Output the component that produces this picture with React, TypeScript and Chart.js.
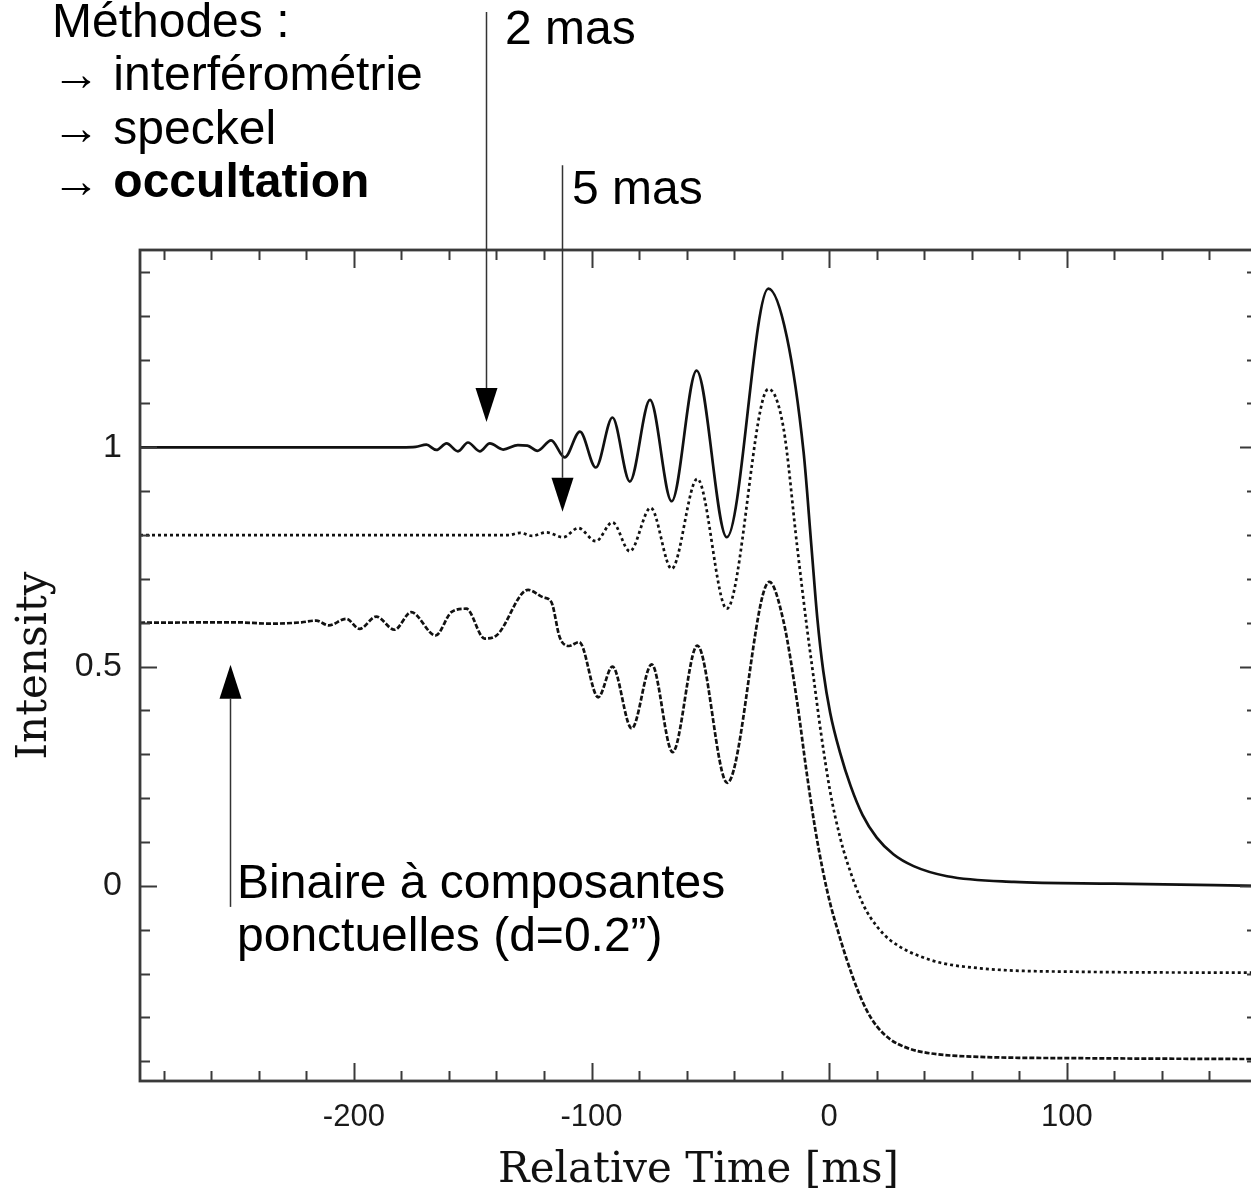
import React, { useEffect, useRef } from "react";
import { Chart, registerables } from "chart.js";

Chart.register(...registerables);

// ---- Data ----
// Relative time [ms] / intensity for the three occultation light curves
const solidX = [-290, -180, -174, -169.5, -165.3, -161, -156.2, -152, -147, -142.8, -137.2, -131, -127, -122.8, -117, -111.3, -104.9, -98.2, -91.2, -83.9, -75.4, -66.3, -55.8, -43.1, -25.6, -17.8, -10.8, -7.5, -5, -2.5, 0.4, 4.5, 9, 14, 20, 27, 35.5, 49.6, 77.7, 119.8, 180];
const solidY = [1.0, 1.0, 1.001, 1.006, 0.994, 1.009, 0.991, 1.011, 0.991, 1.009, 0.995, 1.005, 1.004, 0.992, 1.016, 0.977, 1.036, 0.954, 1.068, 0.922, 1.108, 0.877, 1.175, 0.795, 1.362, 1.251, 0.99, 0.775, 0.61, 0.49, 0.395, 0.305, 0.228, 0.162, 0.11, 0.072, 0.045, 0.022, 0.009, 0.005, 0.0];

const dottedX = [-290, -135, -130, -125, -119, -112, -105.6, -98.2, -91.2, -83.9, -75.1, -66.3, -55.5, -43.1, -25.6, -19.3, -13.4, -9.4, -6.6, -3.5, 0.4, 4.6, 7.5, 14.5, 20, 25.7, 42.6, 63.6, 105.8, 180];
const dottedY = [0.8, 0.8, 0.805, 0.798, 0.806, 0.795, 0.816, 0.786, 0.829, 0.763, 0.862, 0.723, 0.928, 0.632, 1.133, 1.046, 0.77, 0.59, 0.476, 0.35, 0.215, 0.11, 0.055, -0.045, -0.092, -0.124, -0.169, -0.188, -0.196, -0.198];

const dashedX = [-290, -250, -235, -222, -215.9, -210.6, -203.2, -197.6, -190.6, -182.9, -175.9, -165.6, -159, -152.7, -145, -140, -126.7, -120.4, -116.9, -113.4, -109.5, -105.2, -97.2, -91.2, -83.1, -74.7, -65.9, -55.5, -42.9, -25.2, -19.3, -13.6, -9.4, -5.9, -2.5, 0.4, 3.5, 7.5, 12, 15.9, 20, 25.7, 33, 42.6, 63.6, 105.8, 180];
const dashedY = [0.6, 0.601, 0.598, 0.601, 0.605, 0.594, 0.609, 0.586, 0.614, 0.584, 0.624, 0.571, 0.624, 0.632, 0.564, 0.571, 0.675, 0.658, 0.647, 0.567, 0.547, 0.556, 0.43, 0.5, 0.359, 0.505, 0.305, 0.548, 0.235, 0.693, 0.605, 0.423, 0.255, 0.13, 0.03, -0.04, -0.1, -0.17, -0.238, -0.285, -0.32, -0.35, -0.37, -0.382, -0.39, -0.393, -0.395];

const xTickLabels = [-200, -100, 0, 100];
const yTickLabels = [0, 0.5, 1];
const xMin = -290;
const xMax = 180;
const yMin = -0.445;
const yMax = 1.45;
const xMinorStep = 20;
const xMajorStep = 100;
const yMinorStep = 0.1;
const yMajorStep = 0.5;

const xTitle = "Relative Time [ms]";
const yTitle = "Intensity";

// Annotation arrows: x (ms), tail and tip intensity
const arrowX = [-144.4, -112.4, -252.1];
const arrowTail = [1.993, 1.643, -0.048];
const arrowTip = [1.058, 0.853, 0.504];

const methodLines = ["Méthodes :", "→ interférométrie", "→ speckel"];
const methodBold = "occultation";
const label2 = "2 mas";
const label5 = "5 mas";
const binaryLines = ["Binaire à composantes", "ponctuelles (d=0.2”)"];

const CANVAS_W = 1265;
const CANVAS_H = 1194;

const framePlugin = {
  id: "frameTicks",
  afterDatasetsDraw(chart: any) {
    const { ctx, chartArea: a, scales } = chart;
    const xs = scales.x;
    const ys = scales.y;
    ctx.save();
    ctx.strokeStyle = "#3a3a3a";
    ctx.lineWidth = 2.8;
    ctx.strokeRect(a.left, a.top, a.right - a.left, a.bottom - a.top);
    ctx.lineWidth = 2;
    ctx.beginPath();
    const nx0 = Math.ceil(xMin / xMinorStep);
    const nx1 = Math.floor(xMax / xMinorStep);
    for (let k = nx0; k <= nx1; k++) {
      const v = k * xMinorStep;
      const px = Math.round(xs.getPixelForValue(v)) + 0.5;
      const major = Math.abs(v % xMajorStep) < 1e-9;
      const len = major ? 18 : 10;
      ctx.moveTo(px, a.bottom);
      ctx.lineTo(px, a.bottom - len);
      ctx.moveTo(px, a.top);
      ctx.lineTo(px, a.top + len);
    }
    const ny0 = Math.ceil(yMin / yMinorStep - 1e-9);
    const ny1 = Math.floor(yMax / yMinorStep + 1e-9);
    const per = Math.round(yMajorStep / yMinorStep);
    for (let k = ny0; k <= ny1; k++) {
      const v = k * yMinorStep;
      const py = Math.round(ys.getPixelForValue(v)) + 0.5;
      const major = k % per === 0;
      const len = major ? 17 : 10;
      ctx.moveTo(a.left, py);
      ctx.lineTo(a.left + len, py);
      ctx.moveTo(a.right, py);
      ctx.lineTo(a.right - len, py);
    }
    ctx.stroke();
    ctx.restore();
  },
  afterDraw(chart: any) {
    const { ctx, scales } = chart;
    const xs = scales.x;
    const ys = scales.y;
    ctx.save();
    for (let i = 0; i < arrowX.length; i++) {
      const px = Math.round(xs.getPixelForValue(arrowX[i])) + 0.5;
      const pTail = ys.getPixelForValue(arrowTail[i]);
      const pTip = ys.getPixelForValue(arrowTip[i]);
      const dir = pTip > pTail ? 1 : -1;
      const headLen = 34;
      const headHalf = 11;
      ctx.strokeStyle = "#333";
      ctx.lineWidth = 1.5;
      ctx.beginPath();
      ctx.moveTo(px, pTail);
      ctx.lineTo(px, pTip - dir * headLen);
      ctx.stroke();
      ctx.fillStyle = "#000";
      ctx.beginPath();
      ctx.moveTo(px, pTip);
      ctx.lineTo(px - headHalf, pTip - dir * headLen);
      ctx.lineTo(px + headHalf, pTip - dir * headLen);
      ctx.closePath();
      ctx.fill();
    }
    ctx.restore();
  },
};

function App() {
  const ref = useRef<HTMLCanvasElement>(null);

  useEffect(() => {
    if (!ref.current) return;
    const mk = (xa: number[], ya: number[]) => xa.map((x, i) => ({ x, y: ya[i] }));
    const sans = '"Liberation Sans", Arial, sans-serif';
    const chart = new Chart(ref.current, {
      type: "line",
      data: {
        datasets: [
          {
            label: "point source",
            data: mk(solidX, solidY),
            borderColor: "#111",
            borderWidth: 2.7,
            pointRadius: 0,
            cubicInterpolationMode: "monotone",
            fill: false,
          },
          {
            label: "2 mas",
            data: mk(dottedX, dottedY),
            borderColor: "#111",
            borderWidth: 2.7,
            borderDash: [3, 3],
            pointRadius: 0,
            cubicInterpolationMode: "monotone",
            fill: false,
          },
          {
            label: "binary",
            data: mk(dashedX, dashedY),
            borderColor: "#111",
            borderWidth: 2.7,
            borderDash: [5, 2],
            pointRadius: 0,
            cubicInterpolationMode: "monotone",
            fill: false,
          },
        ],
      },
      options: {
        animation: false,
        responsive: false,
        devicePixelRatio: 1,
        parsing: false as any,
        layout: { padding: { left: 0, top: 250, right: CANVAS_W - 1257, bottom: 0 } },
        plugins: { legend: { display: false }, tooltip: { enabled: false } },
        scales: {
          x: {
            type: "linear",
            position: "bottom",
            min: xMin,
            max: xMax,
            grid: { display: false, drawTicks: false },
            border: { display: false },
            afterBuildTicks: (s: any) => {
              s.ticks = xTickLabels.map((v) => ({ value: v }));
            },
            afterFit: (s: any) => {
              s.height = CANVAS_H - 1081;
            },
            ticks: {
              autoSkip: false,
              maxRotation: 0,
              padding: 18,
              color: "#1a1a1a",
              font: { family: sans, size: 31 },
              callback: (v: any) => String(v),
            },
            title: {
              display: true,
              text: xTitle,
              color: "#111",
              font: { family: '"DejaVu Serif", serif', size: 42 },
              padding: { top: 0, bottom: -2 },
            },
          },
          y: {
            type: "linear",
            position: "left",
            min: yMin,
            max: yMax,
            grid: { display: false, drawTicks: false },
            border: { display: false },
            afterBuildTicks: (s: any) => {
              s.ticks = yTickLabels.map((v) => ({ value: v }));
            },
            afterFit: (s: any) => {
              s.width = 140;
            },
            ticks: {
              padding: 18,
              color: "#1a1a1a",
              font: { family: sans, size: 34 },
              callback: (v: any) => String(v),
            },
            title: {
              display: true,
              text: yTitle,
              color: "#111",
              font: { family: '"DejaVu Serif", serif', size: 42 },
              padding: { top: 10, bottom: 0 },
            },
          },
        },
      },
      plugins: [framePlugin],
    } as any);
    return () => chart.destroy();
  }, []);

  const txt: React.CSSProperties = {
    position: "absolute",
    fontFamily: '"Liberation Sans", Arial, sans-serif',
    fontSize: 48,
    lineHeight: "53.3px",
    color: "#000",
    whiteSpace: "nowrap",
    margin: 0,
  };

  return (
    <div style={{ position: "absolute", left: 0, top: 0, width: 1251, height: 1194, overflow: "hidden", background: "#fff" }}>
      <canvas ref={ref} width={CANVAS_W} height={CANVAS_H} style={{ position: "absolute", left: 0, top: 0, width: CANVAS_W, height: CANVAS_H }} />
      <div style={{ ...txt, left: 52, top: -6 }}>
        {methodLines.map((l, i) => (
          <div key={i}>{l}</div>
        ))}
        <div>
          → <b>{methodBold}</b>
        </div>
      </div>
      <div style={{ ...txt, left: 505, top: 1 }}>{label2}</div>
      <div style={{ ...txt, left: 572, top: 161 }}>{label5}</div>
      <div style={{ ...txt, left: 237, top: 855 }}>
        {binaryLines.map((l, i) => (
          <div key={i}>{l}</div>
        ))}
      </div>
    </div>
  );
}

export default App;
